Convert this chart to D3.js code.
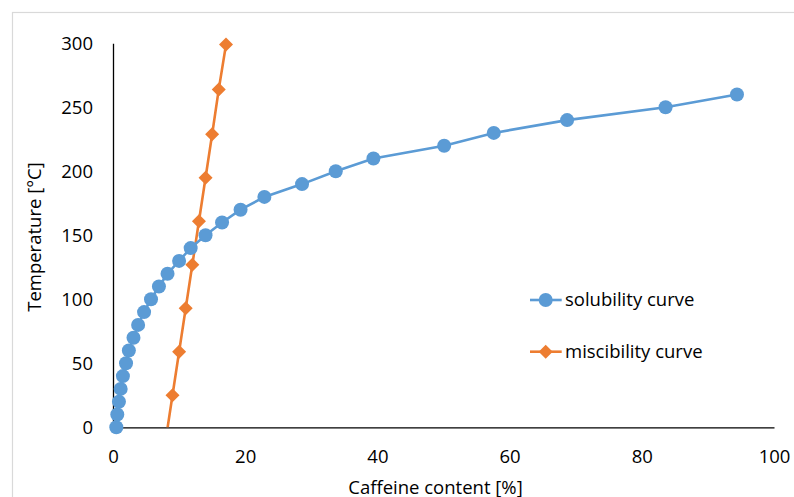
<!DOCTYPE html>
<html>
<head>
<meta charset="utf-8">
<script src="https://cdn.jsdelivr.net/npm/d3@7"></script>
<style>
  body { margin: 0; background: #fff; }
  svg { display: block; font-family: "Open Sans", sans-serif; }
</style>
</head>
<body>
<div id="chart"></div>
<script>
// solubility curve: caffeine content [%] and temperature [°C]
const solubilityX = [0.5, 0.65, 0.9, 1.16, 1.5, 1.97, 2.4, 3.1, 3.8, 4.7, 5.75, 6.95, 8.25, 10.0,
  11.75, 14.0, 16.5, 19.3, 22.9, 28.6, 33.7, 39.4, 50.1, 57.6, 68.7, 83.6, 94.4];
const solubilityT = [0, 10, 20, 30, 40, 50, 60, 70, 80, 90, 100, 110, 120, 130,
  140, 150, 160, 170, 180, 190, 200, 210, 220, 230, 240, 250, 260];

// miscibility curve (first point lies below 0 °C and is clipped by the plot area)
const miscibilityX = [8, 9, 10, 11, 12, 13, 14, 15, 16, 17.1];
const miscibilityT = [-9, 25, 59, 93, 127, 161, 195, 229, 264, 299];

const xTicks = [0, 20, 40, 60, 80, 100];
const yTicks = [0, 50, 100, 150, 200, 250, 300];

const seriesNames = ["solubility curve", "miscibility curve"];
const seriesColors = ["#5b9bd5", "#ed7d31"];

const width = 794, height = 497;
const fontSize = 18.5;

const svg = d3.select("#chart").append("svg")
    .attr("width", width)
    .attr("height", height);

// chart frame
svg.append("rect")
    .attr("x", 12.5).attr("y", 12.5)
    .attr("width", 800).attr("height", 500)
    .attr("fill", "none")
    .attr("stroke", "#d9d9d9")
    .attr("stroke-width", 1.2);

const x = d3.scaleLinear().domain([0, 100]).range([113, 774]);
const y = d3.scaleLinear().domain([0, 300]).range([427.3, 43.3]);

svg.append("clipPath").attr("id", "plotClip")
  .append("rect")
    .attr("x", x(0) - 10).attr("y", y(300) - 10)
    .attr("width", x(100) - x(0) + 20)
    .attr("height", y(0) - y(300) + 10);

// axes
const xAxis = d3.axisBottom(x).tickValues(xTicks).tickSize(0).tickPadding(23);
const yAxis = d3.axisLeft(y).tickValues(yTicks).tickSize(0).tickPadding(20);

const gx = svg.append("g")
    .attr("transform", `translate(0,${y(0)})`)
    .call(xAxis);
const gy = svg.append("g")
    .attr("transform", `translate(${x(0)},0)`)
    .call(yAxis);

[gx, gy].forEach(g => {
  g.select(".domain").attr("stroke", "#000").attr("stroke-width", 1.3);
  g.selectAll("text")
      .attr("font-family", "Open Sans, sans-serif")
      .attr("font-size", fontSize)
      .attr("fill", "#000");
});

// axis titles
svg.append("text")
    .attr("x", 435.5).attr("y", 494)
    .attr("text-anchor", "middle")
    .attr("font-size", fontSize)
    .attr("fill", "#000")
    .text("Caffeine content [%]");

svg.append("text")
    .attr("transform", "translate(41,237) rotate(-90)")
    .attr("text-anchor", "middle")
    .attr("font-size", fontSize)
    .attr("fill", "#000")
    .text("Temperature [°C]");

// series
const solubility = solubilityX.map((v, i) => ({x: v, t: solubilityT[i]}));
const miscibility = miscibilityX.map((v, i) => ({x: v, t: miscibilityT[i]}));

const line = d3.line().x(d => x(d.x)).y(d => y(d.t));
const diamond = d3.symbol().type(d3.symbolSquare).size(98);

const plot = svg.append("g").attr("clip-path", "url(#plotClip)");

plot.append("path")
    .datum(miscibility)
    .attr("d", line)
    .attr("fill", "none")
    .attr("stroke", seriesColors[1])
    .attr("stroke-width", 2.6);

plot.append("path")
    .datum(solubility)
    .attr("d", line)
    .attr("fill", "none")
    .attr("stroke", seriesColors[0])
    .attr("stroke-width", 2.6);

plot.selectAll(".misc")
  .data(miscibility)
  .join("path")
    .attr("class", "misc")
    .attr("transform", d => `translate(${x(d.x)},${y(d.t)}) rotate(45)`)
    .attr("d", diamond)
    .attr("fill", seriesColors[1]);

svg.selectAll(".sol")
  .data(solubility)
  .join("circle")
    .attr("class", "sol")
    .attr("cx", d => x(d.x))
    .attr("cy", d => y(d.t))
    .attr("r", 7)
    .attr("fill", seriesColors[0]);

// legend
const legend = svg.append("g");
seriesNames.forEach((name, i) => {
  const ly = 300 + i * 51.7;
  const g = legend.append("g").attr("transform", `translate(530,${ly})`);
  g.append("line")
      .attr("x1", 0).attr("x2", 31.7)
      .attr("stroke", seriesColors[i])
      .attr("stroke-width", 2.6);
  if (i === 0) {
    g.append("circle").attr("cx", 15.7).attr("r", 7).attr("fill", seriesColors[i]);
  } else {
    g.append("path")
        .attr("transform", "translate(15.7,0) rotate(45)")
        .attr("d", diamond)
        .attr("fill", seriesColors[i]);
  }
  g.append("text")
      .attr("x", 35).attr("dy", "0.35em")
      .attr("font-size", fontSize)
      .attr("fill", "#000")
      .text(name);
});
</script>
</body>
</html>
